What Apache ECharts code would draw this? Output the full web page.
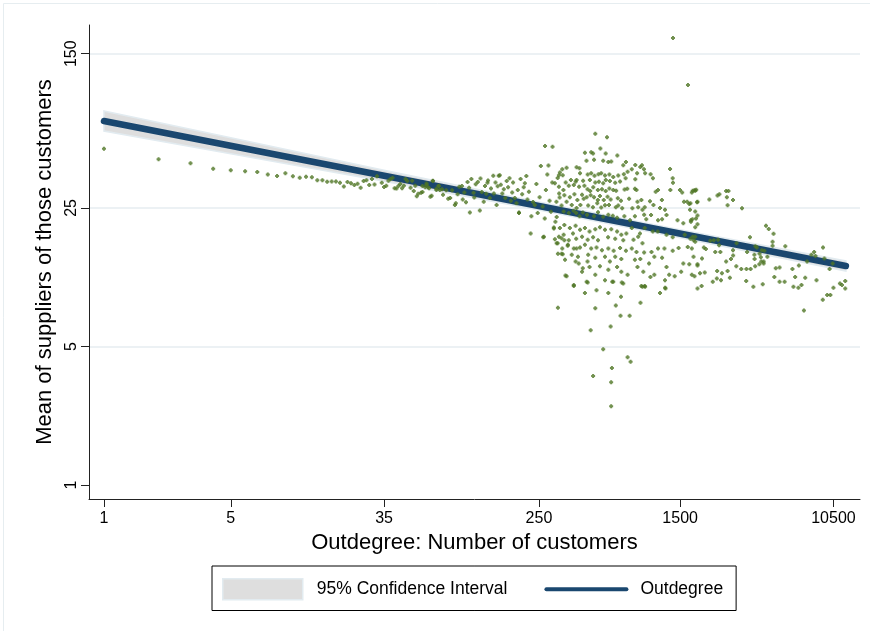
<!DOCTYPE html>
<html>
<head>
<meta charset="utf-8">
<script src="https://cdn.jsdelivr.net/npm/echarts@6/dist/echarts.min.js"></script>
<style>
  html, body { margin: 0; padding: 0; background: #ffffff; }
  #chart { width: 870px; height: 631px; }
</style>
</head>
<body>
<div id="chart"></div>
<script>
// Axis tick values (both axes are logarithmic)
const xTicks = [1, 5, 35, 250, 1500, 10500];
const yTicks = [1, 5, 25, 150];

// Fitted line: mean suppliers vs. outdegree
const fitDegree = [1, 12300];
const fitMean = [68.6, 12.73];

// 95% confidence band around the fit
const ciDegree = [1, 5, 35, 250, 1500, 12300];
const ciLower = [61.1, 46.9, 34.1, 24.4, 17.7, 12.0];
const ciUpper = [77.1, 56.5, 38.7, 26.8, 19.4, 13.5];

// One point per firm: [outdegree, mean number of suppliers of its customers]
const customerPoints = [
  [1,49.7],[2,44.0],[3,42.0],[4,39.4],[5,38.7],[6,38.3],[7,38.0],[8,36.9],[9,36.2],[10,37.4],
  [11,36.1],[12,35.5],[13,35.9],[14,35.7],[15,34.5],[16,34.5],[17,33.9],[18,34.0],[19,34.0],[20,33.5],
  [21,32.1],[22,33.8],[23,33.3],[24,32.6],[25,33.1],[26,31.6],[27,34.2],[28,34.5],[29,32.6],[30,35.0],
  [31,32.8],[32,36.1],[34,33.5],[35,31.9],[36,32.4],[37,34.3],[38,35.0],[39,35.5],[40,31.4],[41,31.3],
  [42,32.3],[43,33.0],[44,31.4],[45,32.4],[46,35.0],[47,34.2],[49,31.6],[50,34.3],[51,30.4],[52,32.4],
  [53,28.6],[54,29.5],[56,29.8],[57,32.3],[59,31.8],[60,33.2],[62,31.4],[63,28.5],[65,34.3],[68,30.8],
  [70,32.4],[71,30.8],
  [57,30.1],[60,32.7],[61,31.8],[65,34.2],[64,28.8],[68,31.2],[70,32.3],[73,31.1],[74,29.1],[77,30.7],
  [79,27.8],[81,28.1],[83,30.7],[86,25.9],[87,26.4],[89,29.3],[91,32.0],[94,32.3],[95,27.6],[97,29.9],
  [99,26.7],[101,33.8],[103,31.6],[104,23.7],[106,35.0],[109,29.8],[110,28.2],[112,32.9],[115,33.8],[118,24.3],
  [119,35.2],[121,30.1],[124,26.9],[126,32.3],[128,29.5],[130,33.5],[131,34.4],[134,28.1],[136,31.3],[140,36.3],
  [141,29.6],[144,33.6],[146,25.9],[148,32.2],[150,36.3],[152,36.6],[154,32.7],[157,29.6],[160,31.1],[163,28.1],
  [166,34.2],[169,31.8],[172,35.3],[175,27.2],[178,29.9],[180,33.6],[184,28.1],[188,26.4],[191,30.8],[194,23.7],
  [198,35.0],[202,29.3],[206,31.8],[209,33.3],[213,36.2],[216,27.6],[220,30.2],[225,18.6],[227,22.7],[232,26.8],
  [237,25.9],[242,33.0],[246,23.6],[252,28.3],[256,40.7],[262,25.4],[264,17.8],[269,22.1],[273,30.8],[278,36.9],
  [282,40.9],[286,27.2],[291,23.9],[296,33.6],[302,19.7],[306,17.4],[313,22.5],[318,14.7],[322,36.6],[325,28.2],
  [194,23.6],[266,17.9],[302,19.9],[313,16.6],[270,51.3],[297,50.9],[338,14.6],[345,17.2],[350,11.4],[361,16.3],
  [398,13.4],[432,11.9],[458,10.6],[403,15.6],[463,13.4],[389,10.1],[333,17.6],
  [511,59.2],[593,56.8],[545,49.8],[448,47.5],[485,47.7],[497,47.0],[583,47.1],[676,46.0],[457,43.3],[503,43.8],
  [565,43.3],[603,42.6],[626,42.9],[754,42.6],[729,41.0],[849,41.2],[905,40.2],[924,41.0],[812,39.2],[948,39.2],
  [336,39.2],[355,39.9],[403,40.1],[418,39.7],[326,37.7],[338,36.6],[317,35.4],[421,37.4],[464,36.9],[485,37.4],
  [506,36.3],[532,37.0],[551,37.4],[578,36.4],[611,36.9],[642,35.8],[684,36.4],[734,37.0],[770,38.1],[869,37.4],
  [962,37.4],[1031,37.0],[1062,35.3],[1320,39.3],[1365,35.3],[1370,33.5],[751,35.3],[849,34.9],[700,34.0],[658,33.5],
  [375,34.6],[398,33.9],[403,34.6],[438,34.3],[477,34.6],[511,33.6],[535,33.9],[565,33.3],[584,34.6],[615,34.2],
  [351,33.6],[306,33.3],[322,32.0],[341,30.8],[365,32.4],[389,32.6],[416,32.0],[445,32.4],[463,31.1],[479,30.4],
  [498,31.8],[528,30.8],[556,31.1],[583,30.4],[611,31.3],[642,30.8],[666,30.5],[741,31.0],[767,31.2],[845,31.2],
  [862,30.8],[1100,30.2],[1133,30.8],[1325,30.8],[1497,30.8],[1540,29.9],[1740,29.9],[1817,30.5],[323,29.6],[345,29.0],
  [370,28.3],[392,29.3],[407,27.4],[432,29.1],[441,27.8],[458,28.3],[482,29.0],[503,28.3],[528,27.4],[542,28.7],
  [569,27.4],[597,28.5],[621,27.6],[680,28.0],[708,27.2],[785,27.8],[873,26.9],[917,27.4],[1023,27.0],[1190,27.4],
  [1575,26.9],[1640,26.9],[1685,26.2],[1870,26.9],[312,26.9],[333,25.7],[355,26.9],[379,25.9],[403,25.0],[423,25.9],
  [467,25.7],[496,25.2],[524,26.4],[551,25.1],[578,25.8],[608,25.9],[663,25.2],[684,25.7],[719,24.9],[818,24.9],
  [881,25.2],[930,24.5],[957,25.2],[1069,25.9],[1162,25.0],[1238,24.5],[342,24.0],[365,23.6],[388,24.2],[401,23.6],
  [418,22.7],[436,23.7],[460,23.1],[503,22.7],[529,23.8],[565,22.6],[603,23.1],[638,22.8],[674,22.3],[739,22.7],
  [794,21.7],[845,22.7],[950,23.1],[976,21.9],[1037,23.0],[1133,21.7],[1193,21.9],[1262,23.0],[1451,21.7],[1562,20.9],
  [1720,21.3],[1755,21.9],[1836,22.1],[308,21.3],[326,19.8],[345,20.5],[370,19.8],[385,18.6],[398,20.3],[421,19.4],
  [448,19.8],[475,19.0],[511,19.5],[542,20.0],[578,19.4],[626,19.5],[674,19.0],[711,18.3],[758,18.6],[812,19.8],
  [901,18.6],[957,19.8],[1060,19.0],[1128,19.0],[1262,18.3],[1365,17.8],[1590,18.3],[1710,17.5],[1817,17.9],[322,17.9],
  [342,18.3],[365,17.2],[401,17.5],[432,17.9],[464,17.3],[497,17.8],[529,17.2],[601,17.8],[658,17.5],[729,17.2],
  [830,17.3],[881,17.9],[930,16.6],[317,16.6],[336,15.6],[360,16.1],[389,15.6],[421,15.8],[448,16.3],[485,15.6],
  [519,15.8],[556,15.3],[603,15.6],[645,15.2],[700,15.7],[754,15.2],[812,15.6],[862,15.0],[950,14.9],[1043,15.0],
  [1133,15.6],[1229,15.6],[1365,15.2],[1471,15.7],[1652,15.9],[333,14.7],[379,14.5],[410,14.2],[467,14.5],[511,14.0],
  [578,14.2],[615,13.4],[658,14.2],[711,13.8],[845,13.7],[905,13.8],[1011,13.1],[1081,14.2],[1193,14.0],[1262,12.6],
  [1562,13.1],[1685,13.0],[1778,14.2],[1870,13.0],[348,13.7],[414,13.1],[436,12.4],[475,12.6],[542,12.7],[603,12.2],
  [674,12.6],[711,11.9],[770,11.5],[873,12.6],[940,11.9],[1029,11.2],[1081,11.5],[1238,10.8],[1305,11.5],[1400,11.3],
  [1520,11.9],[1740,11.5],[355,11.3],[511,11.5],[578,10.8],[642,10.6],[729,10.4],[917,10.1],[957,10.1],[389,10.2],
  [464,10.5],[519,9.6],[448,9.3],[603,9.3],[708,8.9],[1162,9.3],[1246,9.8],
  [318,7.85],[511,7.8],[482,6.03],[621,6.3],[704,7.15],[790,7.15],[907,8.32],[663,8.06],[565,4.84],[770,4.41],
  [800,4.19],[631,3.89],[497,3.55],[625,3.3],[625,2.5],[634,10.6],[715,10.5],[930,10.0],[962,10.0],[1240,9.9],
  [1370,180],[1657,104.3],
  [1760,30.5],[1800,30.7],[1840,30.9],[1710,26.4],[1860,26.7],[2173,27.6],[2410,28.9],[2470,29.3],[2690,30.4],[2770,30.4],
  [2715,28.3],[2935,27.4],[2740,25.8],[3290,24.9],[1700,24.5],[1817,24.0],[1870,22.9],[1720,21.7],[1817,20.0],[1870,20.7],
  [1760,17.9],[1778,17.2],[1817,16.9],[1740,15.6],[2027,15.8],[2080,15.5],[2200,17.1],[2300,17.2],[2430,17.3],[2460,16.2],
  [2343,15.0],[1980,13.9],[1870,12.8],[2690,13.4],[2860,13.8],[2940,14.4],[2935,15.3],[3640,17.8],[3510,15.0],[3850,14.5],
  [3970,15.8],[4110,14.7],[4230,15.3],[4370,15.2],[4180,14.1],[4200,13.4],[4330,13.4],[4330,13.1],[4460,20.3],[4620,19.6],
  [4910,18.5],[4850,16.9],[4850,16.1],[3900,16.0],[4540,14.2],[5050,12.4],[5300,12.5],[5700,16.0],[6240,12.3],[6770,12.8],
  [6460,11.2],[4960,11.2],[5300,10.6],[5650,10.6],[6320,10.0],[6730,9.9],[7000,10.2],[7340,11.1],[7220,7.6],[7520,13.4],
  [7940,14.5],[8220,15.0],[8360,14.3],[9200,15.8],[8470,10.8],[9170,8.6],[9700,9.1],[10100,9.1],[10500,9.9],[11400,10.4],
  [11700,10.2],[12200,10.7],[12200,9.8],[10000,12.3],[10400,13.1],[9360,13.9],[3470,10.7],[3800,10.0],[4280,10.3],[3860,13.8],
  [3670,12.3],[3480,12.3],[3260,12.3],[3060,12.7],[2820,11.1],[2740,12.0],[2520,10.8],[2550,11.7],[2390,11.0],[2270,10.6],
  [1970,10.1],[1870,9.8],[2050,11.8],[1930,11.7],[1800,11.3],[2400,12.0],[2500,15.0],[3070,16.6],[3890,12.7],[4100,13.0]
];

const FONT = '"Liberation Sans", Arial, Helvetica, sans-serif';
const formatTick = v => String(Math.round(v));

const chart = echarts.init(document.getElementById('chart'), null, { renderer: 'canvas' });

chart.setOption({
  backgroundColor: '#ffffff',
  animation: false,
  textStyle: { fontFamily: FONT },
  graphic: [{
    type: 'rect',
    silent: true,
    z: -10,
    shape: { x: 3.5, y: 3.5, width: 900, height: 700 },
    style: { fill: 'none', stroke: '#e6edf0', lineWidth: 1 }
  }],
  grid: { left: 89, right: 10, top: 25, bottom: 132, containLabel: false },
  xAxis: {
    type: 'log',
    logBase: 10,
    min: 0.827,
    max: 14711,
    name: 'Outdegree: Number of customers',
    nameLocation: 'middle',
    nameGap: 29,
    nameTextStyle: { fontSize: 22, color: '#000', fontFamily: FONT },
    axisLine: { show: true, lineStyle: { color: '#222', width: 1 } },
    axisTick: { show: true, customValues: xTicks, length: 8, lineStyle: { color: '#222', width: 1 } },
    axisLabel: { customValues: xTicks, margin: 12, fontSize: 16, color: '#000', fontFamily: FONT, formatter: formatTick },
    minorTick: { show: false },
    splitLine: { show: false }
  },
  yAxis: {
    type: 'log',
    logBase: 10,
    min: 0.85,
    max: 209.4,
    name: 'Mean of suppliers of those customers',
    nameLocation: 'middle',
    nameRotate: 90,
    nameGap: 25,
    nameTextStyle: { fontSize: 22, color: '#000', fontFamily: FONT },
    axisLine: { show: true, lineStyle: { color: '#222', width: 1 } },
    axisTick: { show: true, customValues: yTicks, length: 8, lineStyle: { color: '#222', width: 1 } },
    axisLabel: { customValues: yTicks, rotate: 90, margin: 9, fontSize: 16, color: '#000', fontFamily: FONT, formatter: formatTick },
    minorTick: { show: false },
    splitLine: { show: true, showMinLine: false, lineStyle: { color: '#e6edf1', width: 1.5 } }
  },
  legend: {
    left: 212,
    top: 566,
    orient: 'horizontal',
    itemWidth: 80,
    itemHeight: 21,
    itemGap: 37,
    padding: [12, 13, 10, 10],
    borderColor: '#000',
    borderWidth: 1,
    backgroundColor: '#fff',
    selectedMode: false,
    textStyle: { fontSize: 17.5, color: '#000', fontFamily: FONT, padding: [0, 0, 0, 9] },
    data: [
      { name: '95% Confidence Interval', icon: 'rect',
        itemStyle: { color: '#dedede', borderColor: '#e2ebf0', borderWidth: 1.5 } },
      { name: 'Outdegree', itemStyle: { opacity: 0 }, lineStyle: { width: 4, color: '#1a476f', opacity: 1 } }
    ]
  },
  series: [
    {
      type: 'custom',
      name: '95% Confidence Interval',
      coordinateSystem: 'cartesian2d',
      silent: true,
      z: 1,
      itemStyle: { color: '#dedede' },
      data: [[ciDegree[0], ciLower[0]]],
      renderItem: function (params, api) {
        const pts = [];
        for (let i = 0; i < ciDegree.length; i++) pts.push(api.coord([ciDegree[i], ciUpper[i]]));
        for (let i = ciDegree.length - 1; i >= 0; i--) pts.push(api.coord([ciDegree[i], ciLower[i]]));
        return {
          type: 'polygon',
          shape: { points: pts },
          style: { fill: '#dedede', stroke: '#e2ebf0', lineWidth: 1.5 }
        };
      }
    },
    {
      type: 'line',
      name: 'Outdegree',
      z: 3,
      silent: true,
      symbol: 'none',
      showSymbol: false,
      data: fitDegree.map((d, i) => [d, fitMean[i]]),
      lineStyle: { color: '#1a476f', width: 6.5, cap: 'round' },
      itemStyle: { color: '#1a476f' }
    },
    {
      type: 'scatter',
      name: 'Firms',
      z: 4,
      silent: true,
      symbol: 'path://M1,0H3V1H4V3H3V4H1V3H0V1H1Z',
      symbolSize: 4,
      itemStyle: { color: '#4f7624' },
      data: customerPoints
    }
  ]
});
</script>
</body>
</html>
